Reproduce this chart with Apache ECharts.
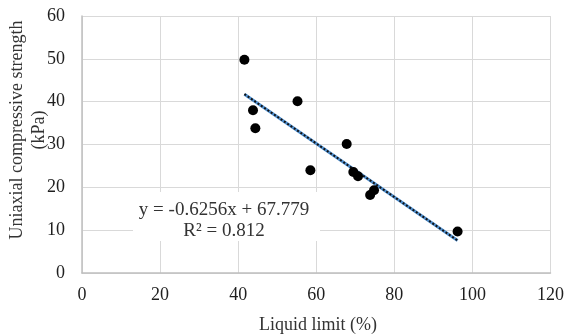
<!DOCTYPE html>
<html>
<head>
<meta charset="utf-8">
<script src="https://cdn.jsdelivr.net/npm/echarts@6/dist/echarts.min.js"></script>
<style>
  html, body { margin: 0; padding: 0; background: #fff; }
  #chart { width: 567px; height: 336px; }
</style>
</head>
<body>
<div id="chart"></div>
<script>
// Liquid limit (%) vs uniaxial compressive strength (kPa)
const liquidLimit = [41.6, 43.8, 44.4, 55.2, 58.5, 67.8, 69.5, 70.7, 73.8, 74.8, 96.2];
const strength    = [49.8, 38.0, 33.8, 40.1, 24.0, 30.1, 23.6, 22.6, 18.2, 19.3, 9.7];

// Linear trendline as stated on the chart
const slope = -0.6256;
const intercept = 67.779;
const rSquared = 0.812;

const xTicks = [0, 20, 40, 60, 80, 100, 120];
const yTicks = [0, 10, 20, 30, 40, 50, 60];

const points = liquidLimit.map((x, i) => [x, strength[i]]);
const xMin = Math.min(...liquidLimit);
const xMax = Math.max(...liquidLimit);
const trend = [xMin, xMax].map(x => [x, slope * x + intercept]);

const serif = '"Liberation Serif", "Times New Roman", serif';
const chart = echarts.init(document.getElementById('chart'), null, { renderer: 'canvas' });

chart.setOption({
  animation: false,
  backgroundColor: '#fff',
  grid: { left: 82, right: 16, top: 16, bottom: 63, containLabel: false },
  xAxis: {
    type: 'value',
    min: xTicks[0], max: xTicks[xTicks.length - 1], interval: 20,
    axisLine: { show: true, onZero: false, lineStyle: { color: '#bfbfbf', width: 1.5 } },
    axisTick: { show: false },
    splitLine: { show: true, lineStyle: { color: '#d9d9d9', width: 1 } },
    axisLabel: { color: '#1f1f1f', fontFamily: serif, fontSize: 18, margin: 13 }
  },
  yAxis: {
    type: 'value',
    min: yTicks[0], max: yTicks[yTicks.length - 1], interval: 10,
    axisLine: { show: true, onZero: false, lineStyle: { color: '#bfbfbf', width: 1.5 } },
    axisTick: { show: false },
    splitLine: { show: true, lineStyle: { color: '#d9d9d9', width: 1 } },
    axisLabel: { color: '#1f1f1f', fontFamily: serif, fontSize: 18, margin: 17 }
  },
  graphic: [
    {
      type: 'text', x: 28, y: 130, rotation: Math.PI / 2, z: 10,
      style: {
        text: 'Uniaxial compressive strength\n(kPa)',
        fill: '#333', font: '18px ' + serif, align: 'center', verticalAlign: 'middle', lineHeight: 22
      }
    },
    {
      type: 'text', z: 10,
      style: {
        text: 'Liquid limit (%)', x: 318, y: 325,
        fill: '#333', font: '18px ' + serif, align: 'center', verticalAlign: 'middle'
      }
    },
    {
      type: 'rect', z: 10,
      shape: { x: 133, y: 192, width: 187, height: 49 },
      style: { fill: '#fff' }
    },
    {
      type: 'text', z: 11,
      style: {
        text: 'y = ' + slope + 'x + ' + intercept + '\nR\u00b2 = ' + rSquared,
        x: 224, y: 221, fill: '#333', font: '19px ' + serif,
        align: 'center', verticalAlign: 'middle', lineHeight: 21
      }
    }
  ],
  series: [
    {
      type: 'line', data: trend, symbol: 'none', z: 3,
      lineStyle: { color: '#4f8fcf', width: 3 }
    },
    {
      type: 'line', data: trend, symbol: 'none', z: 4,
      lineStyle: { color: '#111', width: 2, type: [2, 2] }
    },
    {
      type: 'scatter', data: points, symbol: 'circle', symbolSize: 10, z: 5,
      itemStyle: { color: '#000', opacity: 1 }
    }
  ]
});
</script>
</body>
</html>
